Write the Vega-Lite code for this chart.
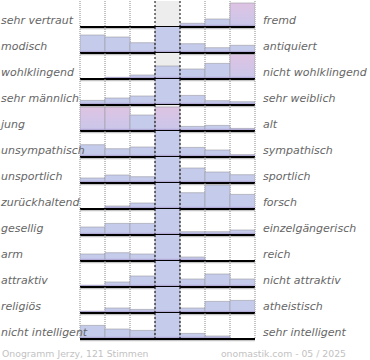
{
  "$schema": "https://vega.github.io/schema/vega-lite/v6.json",
  "autosize": {"type": "pad"},
  "padding": {"left": 1, "top": 0, "right": 0, "bottom": 0},
  "background": "white",
  "datasets": {
    "paare": [
      {"paar": 1, "links": "sehr vertraut", "rechts": "fremd"},
      {"paar": 2, "links": "modisch", "rechts": "antiquiert"},
      {"paar": 3, "links": "wohlklingend", "rechts": "nicht wohlklingend"},
      {"paar": 4, "links": "sehr männlich", "rechts": "sehr weiblich"},
      {"paar": 5, "links": "\u2004jung", "rechts": "alt"},
      {"paar": 6, "links": "unsympathisch", "rechts": "sympathisch"},
      {"paar": 7, "links": "unsportlich", "rechts": "sportlich"},
      {"paar": 8, "links": "zurückhaltend", "rechts": "forsch"},
      {"paar": 9, "links": "gesellig", "rechts": "einzelgängerisch"},
      {"paar": 10, "links": "arm", "rechts": "reich"},
      {"paar": 11, "links": "attraktiv", "rechts": "nicht attraktiv"},
      {"paar": 12, "links": "religiös", "rechts": "atheistisch"},
      {"paar": 13, "links": "nicht intelligent", "rechts": "sehr intelligent"}
    ],
    "werte": [
      {"paar": 1, "stufe": 1, "wert": 0, "spitze": false},
      {"paar": 1, "stufe": 2, "wert": 0, "spitze": false},
      {"paar": 1, "stufe": 3, "wert": 0, "spitze": false},
      {"paar": 1, "stufe": 4, "wert": 0, "spitze": false},
      {"paar": 1, "stufe": 5, "wert": 3.7, "spitze": false},
      {"paar": 1, "stufe": 6, "wert": 8, "spitze": false},
      {"paar": 1, "stufe": 7, "wert": 24, "spitze": true},
      {"paar": 2, "stufe": 1, "wert": 18, "spitze": false},
      {"paar": 2, "stufe": 2, "wert": 16, "spitze": false},
      {"paar": 2, "stufe": 3, "wert": 10.3, "spitze": false},
      {"paar": 2, "stufe": 4, "wert": 30, "spitze": false},
      {"paar": 2, "stufe": 5, "wert": 9.3, "spitze": false},
      {"paar": 2, "stufe": 6, "wert": 5.3, "spitze": false},
      {"paar": 2, "stufe": 7, "wert": 7.7, "spitze": false},
      {"paar": 3, "stufe": 1, "wert": 0, "spitze": false},
      {"paar": 3, "stufe": 2, "wert": 1.5, "spitze": false},
      {"paar": 3, "stufe": 3, "wert": 4, "spitze": false},
      {"paar": 3, "stufe": 4, "wert": 13, "spitze": false},
      {"paar": 3, "stufe": 5, "wert": 10, "spitze": false},
      {"paar": 3, "stufe": 6, "wert": 15.6, "spitze": false},
      {"paar": 3, "stufe": 7, "wert": 24.5, "spitze": true},
      {"paar": 4, "stufe": 1, "wert": 4.6, "spitze": false},
      {"paar": 4, "stufe": 2, "wert": 7, "spitze": false},
      {"paar": 4, "stufe": 3, "wert": 9, "spitze": false},
      {"paar": 4, "stufe": 4, "wert": 30, "spitze": false},
      {"paar": 4, "stufe": 5, "wert": 9.6, "spitze": false},
      {"paar": 4, "stufe": 6, "wert": 4.3, "spitze": false},
      {"paar": 4, "stufe": 7, "wert": 3.3, "spitze": false},
      {"paar": 5, "stufe": 1, "wert": 24, "spitze": true},
      {"paar": 5, "stufe": 2, "wert": 24, "spitze": true},
      {"paar": 5, "stufe": 3, "wert": 16, "spitze": false},
      {"paar": 5, "stufe": 4, "wert": 24, "spitze": true},
      {"paar": 5, "stufe": 5, "wert": 4.6, "spitze": false},
      {"paar": 5, "stufe": 6, "wert": 5.6, "spitze": false},
      {"paar": 5, "stufe": 7, "wert": 2.6, "spitze": false},
      {"paar": 6, "stufe": 1, "wert": 12.3, "spitze": false},
      {"paar": 6, "stufe": 2, "wert": 8.3, "spitze": false},
      {"paar": 6, "stufe": 3, "wert": 10, "spitze": false},
      {"paar": 6, "stufe": 4, "wert": 30, "spitze": false},
      {"paar": 6, "stufe": 5, "wert": 9.6, "spitze": false},
      {"paar": 6, "stufe": 6, "wert": 7, "spitze": false},
      {"paar": 6, "stufe": 7, "wert": 2.3, "spitze": false},
      {"paar": 7, "stufe": 1, "wert": 5, "spitze": false},
      {"paar": 7, "stufe": 2, "wert": 8, "spitze": false},
      {"paar": 7, "stufe": 3, "wert": 6.3, "spitze": false},
      {"paar": 7, "stufe": 4, "wert": 30, "spitze": false},
      {"paar": 7, "stufe": 5, "wert": 15, "spitze": false},
      {"paar": 7, "stufe": 6, "wert": 11, "spitze": false},
      {"paar": 7, "stufe": 7, "wert": 8.3, "spitze": false},
      {"paar": 8, "stufe": 1, "wert": 0, "spitze": false},
      {"paar": 8, "stufe": 2, "wert": 3, "spitze": false},
      {"paar": 8, "stufe": 3, "wert": 6, "spitze": false},
      {"paar": 8, "stufe": 4, "wert": 30, "spitze": false},
      {"paar": 8, "stufe": 5, "wert": 16.3, "spitze": false},
      {"paar": 8, "stufe": 6, "wert": 24, "spitze": false},
      {"paar": 8, "stufe": 7, "wert": 14.6, "spitze": false},
      {"paar": 9, "stufe": 1, "wert": 8, "spitze": false},
      {"paar": 9, "stufe": 2, "wert": 11.6, "spitze": false},
      {"paar": 9, "stufe": 3, "wert": 11.6, "spitze": false},
      {"paar": 9, "stufe": 4, "wert": 30, "spitze": false},
      {"paar": 9, "stufe": 5, "wert": 3.3, "spitze": false},
      {"paar": 9, "stufe": 6, "wert": 3.3, "spitze": false},
      {"paar": 9, "stufe": 7, "wert": 5, "spitze": false},
      {"paar": 10, "stufe": 1, "wert": 7, "spitze": false},
      {"paar": 10, "stufe": 2, "wert": 8.3, "spitze": false},
      {"paar": 10, "stufe": 3, "wert": 7, "spitze": false},
      {"paar": 10, "stufe": 4, "wert": 30, "spitze": false},
      {"paar": 10, "stufe": 5, "wert": 4, "spitze": false},
      {"paar": 10, "stufe": 6, "wert": 0, "spitze": false},
      {"paar": 10, "stufe": 7, "wert": 0, "spitze": false},
      {"paar": 11, "stufe": 1, "wert": 1.6, "spitze": false},
      {"paar": 11, "stufe": 2, "wert": 5, "spitze": false},
      {"paar": 11, "stufe": 3, "wert": 11, "spitze": false},
      {"paar": 11, "stufe": 4, "wert": 30, "spitze": false},
      {"paar": 11, "stufe": 5, "wert": 8, "spitze": false},
      {"paar": 11, "stufe": 6, "wert": 13, "spitze": false},
      {"paar": 11, "stufe": 7, "wert": 8, "spitze": false},
      {"paar": 12, "stufe": 1, "wert": 1.6, "spitze": false},
      {"paar": 12, "stufe": 2, "wert": 5, "spitze": false},
      {"paar": 12, "stufe": 3, "wert": 3.6, "spitze": false},
      {"paar": 12, "stufe": 4, "wert": 30, "spitze": false},
      {"paar": 12, "stufe": 5, "wert": 5, "spitze": false},
      {"paar": 12, "stufe": 6, "wert": 11.6, "spitze": false},
      {"paar": 12, "stufe": 7, "wert": 12.6, "spitze": false},
      {"paar": 13, "stufe": 1, "wert": 13.6, "spitze": false},
      {"paar": 13, "stufe": 2, "wert": 10, "spitze": false},
      {"paar": 13, "stufe": 3, "wert": 8.6, "spitze": false},
      {"paar": 13, "stufe": 4, "wert": 30, "spitze": false},
      {"paar": 13, "stufe": 5, "wert": 5.6, "spitze": false},
      {"paar": 13, "stufe": 6, "wert": 3, "spitze": false},
      {"paar": 13, "stufe": 7, "wert": 0, "spitze": false}
    ]
  },
  "data": {"name": "werte"},
  "transform": [
    {"lookup": "paar", "from": {"data": {"name": "paare"}, "key": "paar", "fields": ["links", "rechts"]}}
  ],
  "facet": {"row": {"field": "paar", "type": "ordinal", "header": null}},
  "spacing": 0,
  "bounds": "flush",
  "spec": {
    "width": 175,
    "height": 26,
    "layer": [
      {
        "transform": [{"filter": "datum.stufe == 4"}],
        "mark": {"type": "bar", "color": "#ededed"},
        "encoding": {
          "x": {"field": "stufe", "type": "ordinal", "axis": null, "scale": {"domain": [1, 2, 3, 4, 5, 6, 7], "paddingInner": 0, "paddingOuter": 0}},
          "y": {"datum": 26, "type": "quantitative", "scale": {"domain": [0, 26], "nice": false}, "axis": null}
        }
      },
      {
        "transform": [{"filter": "datum.stufe != 4 && datum.stufe != 5"}],
        "mark": {"type": "rule", "color": "#8a8a8a", "strokeDash": [1, 1], "strokeWidth": 1},
        "encoding": {"x": {"field": "stufe", "type": "ordinal", "bandPosition": 0}}
      },
      {
        "transform": [{"filter": "datum.stufe == 7"}],
        "mark": {"type": "rule", "color": "#8a8a8a", "strokeDash": [1, 1], "strokeWidth": 1},
        "encoding": {"x": {"field": "stufe", "type": "ordinal", "bandPosition": 1}}
      },
      {
        "mark": {"type": "bar", "clip": true, "stroke": "#9a9aa2", "strokeWidth": 0.6},
        "encoding": {
          "x": {"field": "stufe", "type": "ordinal"},
          "y": {"field": "wert", "type": "quantitative"},
          "color": {
            "condition": {
              "test": "datum.spitze",
              "value": {"gradient": "linear", "x1": 0, "y1": 0, "x2": 0, "y2": 1, "stops": [{"offset": 0, "color": "#dec3e3"}, {"offset": 1, "color": "#c9c7ea"}]}
            },
            "value": "#c5cbea"
          }
        }
      },
      {
        "transform": [{"filter": "datum.wert > 0"}],
        "mark": {"type": "bar", "color": "#a99dcf", "opacity": 0.7},
        "encoding": {
          "x": {"field": "stufe", "type": "ordinal"},
          "y": {"datum": 2.2, "type": "quantitative"}
        }
      },
      {
        "transform": [{"filter": "datum.stufe == 4 || datum.stufe == 5"}],
        "mark": {"type": "rule", "color": "#000000", "strokeDash": [2, 2], "strokeWidth": 1},
        "encoding": {"x": {"field": "stufe", "type": "ordinal", "bandPosition": 0}}
      },
      {
        "transform": [{"filter": "datum.stufe == 1"}],
        "mark": {"type": "rule", "color": "#c4c4c4", "strokeWidth": 1.5, "yOffset": 1.5},
        "encoding": {"y": {"datum": 0, "type": "quantitative"}}
      },
      {
        "transform": [{"filter": "datum.stufe == 1"}],
        "mark": {"type": "rule", "color": "#000000", "strokeWidth": 2},
        "encoding": {"y": {"datum": 0, "type": "quantitative"}}
      },
      {
        "transform": [{"filter": "datum.stufe == 1"}],
        "mark": {"type": "text", "align": "left", "baseline": "middle", "dx": -79, "fontStyle": "italic", "fontSize": 11, "color": "#666666"},
        "encoding": {
          "x": {"field": "stufe", "type": "ordinal", "bandPosition": 0},
          "y": {"datum": 6, "type": "quantitative"},
          "text": {"field": "links"}
        }
      },
      {
        "transform": [{"filter": "datum.stufe == 7"}],
        "mark": {"type": "text", "align": "left", "baseline": "middle", "dx": 8, "fontStyle": "italic", "fontSize": 11, "color": "#666666"},
        "encoding": {
          "x": {"field": "stufe", "type": "ordinal", "bandPosition": 1},
          "y": {"datum": 6, "type": "quantitative"},
          "text": {"field": "rechts"}
        }
      },
      {
        "transform": [{"filter": "datum.paar == 13 && datum.stufe == 1"}],
        "mark": {"type": "text", "align": "left", "baseline": "middle", "dx": -78, "fontSize": 9.3, "color": "#c2c2c2"},
        "encoding": {
          "x": {"field": "stufe", "type": "ordinal", "bandPosition": 0},
          "y": {"datum": -15, "type": "quantitative"},
          "text": {"value": "Onogramm Jerzy, 121 Stimmen"}
        }
      },
      {
        "transform": [{"filter": "datum.paar == 13 && datum.stufe == 7"}],
        "mark": {"type": "text", "align": "right", "baseline": "middle", "dx": 91, "fontSize": 9.3, "color": "#c2c2c2"},
        "encoding": {
          "x": {"field": "stufe", "type": "ordinal", "bandPosition": 1},
          "y": {"datum": -15, "type": "quantitative"},
          "text": {"value": "onomastik.com - 05 / 2025"}
        }
      }
    ]
  },
  "config": {"view": {"stroke": null}, "font": "DejaVu Sans"}
}
